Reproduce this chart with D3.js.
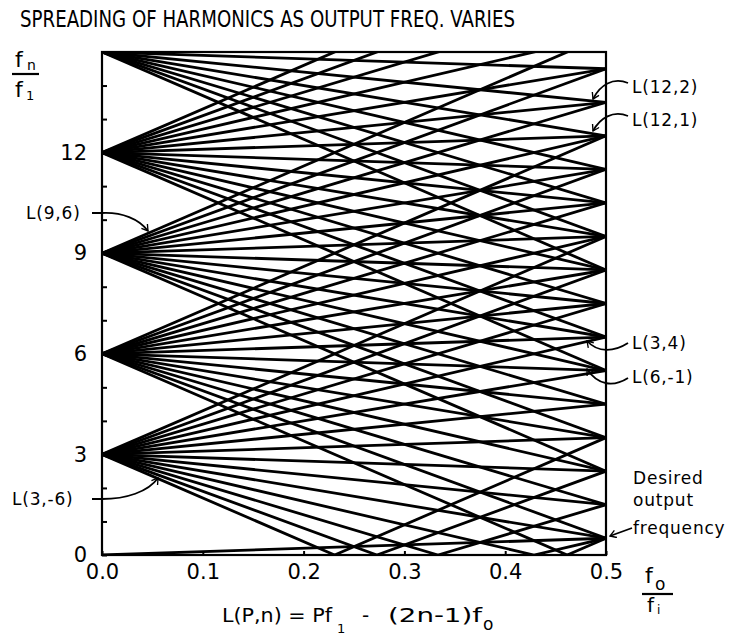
<!DOCTYPE html>
<html lang="en">
  <head>
    <meta charset="UTF-8">
    <script src="https://d3js.org/d3.v7.min.js"></script>
    <title>Spreading of harmonics</title>
    <style>
      body { margin: 0; background: #fff; }
      svg text { font-family: 'DejaVu Sans', sans-serif; fill: #000; }
    </style>
  </head>
  <body>
    <div id="chart"></div>
    <script>
      // harmonic families P (in units of f1) and orders n for L(P,n)
      const harmonics = [3, 6, 9, 12, 15];
      const orders = [-6, -5, -4, -3, -2, -1, 0, 1, 2, 3, 4, 5, 6, 7];
      const desired = [[0, 0]]; // L(0,0) = fo itself
      const yTicks = [0, 3, 6, 9, 12];
      const xTicks = [0, 0.1, 0.2, 0.3, 0.4, 0.5];
      const labels = [
        { text: "L(12,2)", x: 632, y: 87, path: "M628,83 C613,77 600,85 593,99" },
        { text: "L(12,1)", x: 632, y: 120, path: "M628,116 C613,110 600,118 593,131" },
        { text: "L(9,6)", x: 26, y: 213, path: "M92,213 L102,213 C122,212 139,219 148,231" },
        { text: "L(3,-6)", x: 12, y: 499, path: "M92,499 L102,499 C126,499 148,492 158,478" },
        { text: "L(3,4)", x: 632, y: 343, path: "M628,343 C614,352 598,353 587,341" },
        { text: "L(6,-1)", x: 632, y: 377, path: "M628,378 C614,387 598,386 587,369" }
      ];

      const width = 752, height = 635;
      const x = d3.scaleLinear().domain([0, 0.5]).range([102, 606]);
      const y = d3.scaleLinear().domain([0, 15]).range([555, 52]);

      const svg = d3.select("#chart").append("svg")
                    .attr("width", width).attr("height", height);

      svg.append("defs").append("clipPath").attr("id", "plot")
         .append("rect")
         .attr("x", x(0)).attr("y", y(15))
         .attr("width", x(0.5) - x(0)).attr("height", y(0) - y(15));

      svg.select("defs").append("marker")
         .attr("id", "head").attr("viewBox", "-10 -6 12 12")
         .attr("markerWidth", 9).attr("markerHeight", 9)
         .attr("markerUnits", "userSpaceOnUse")
         .attr("orient", "auto")
         .append("path").attr("d", "M-8,-5 L0,0 L-8,5")
         .attr("fill", "none").attr("stroke", "#000").attr("stroke-width", 1.8);

      // each line is |P + (2n-1) fo|, bending where it meets zero
      function pts(P, n) {
        const k = 2 * n - 1;
        const xs = [0, 0.5];
        const x0 = -P / k;
        if (x0 > 0 && x0 < 0.5) xs.splice(1, 0, x0);
        return xs.map(v => [v, Math.abs(P + k * v)]);
      }
      const family = [];
      harmonics.forEach(P => orders.forEach(n => family.push(pts(P, n))));
      desired.forEach(d => family.push(pts(d[0], d[1])));

      const line = d3.line().x(d => x(d[0])).y(d => y(d[1]));
      svg.append("g").attr("clip-path", "url(#plot)")
         .selectAll("path").data(family).enter().append("path")
         .attr("d", line).attr("fill", "none")
         .attr("stroke", "#000").attr("stroke-width", 2.8);

      // frame
      svg.append("rect")
         .attr("x", x(0)).attr("y", y(15))
         .attr("width", x(0.5) - x(0)).attr("height", y(0) - y(15))
         .attr("fill", "none").attr("stroke", "#000").attr("stroke-width", 2.2);

      // inner minor ticks
      svg.append("g").attr("transform", "translate(" + x(0) + ",0)")
         .call(d3.axisRight(y).ticks(15).tickSize(5).tickFormat(""))
         .call(g => g.select(".domain").remove())
         .selectAll("line").attr("stroke-width", 2);
      svg.append("g").attr("transform", "translate(0," + y(0) + ")")
         .call(d3.axisTop(x).tickValues(xTicks).tickSize(4).tickFormat(""))
         .call(g => g.select(".domain").remove())
         .selectAll("line").attr("stroke-width", 2);

      const yAxis = svg.append("g").attr("transform", "translate(" + x(0) + ",0)")
         .call(d3.axisLeft(y).tickValues(yTicks).tickSize(0).tickPadding(15));
      yAxis.select(".domain").remove();
      yAxis.selectAll("text").attr("font-size", 21).attr("font-family", "'DejaVu Sans', sans-serif");

      const xAxis = svg.append("g").attr("transform", "translate(0," + y(0) + ")")
         .call(d3.axisBottom(x).tickValues(xTicks).tickSize(0).tickPadding(9).tickFormat(d3.format(".1f")));
      xAxis.select(".domain").remove();
      xAxis.selectAll("text").attr("font-size", 21).attr("font-family", "'DejaVu Sans', sans-serif");

      // title
      svg.append("text").attr("x", 20).attr("y", 27)
         .attr("font-size", 23).attr("textLength", 495).attr("lengthAdjust", "spacingAndGlyphs")
         .text("SPREADING OF HARMONICS AS OUTPUT FREQ. VARIES");

      // y label fn / f1
      svg.append("text").attr("x", 15).attr("y", 67).attr("font-size", 22).text("f");
      svg.append("text").attr("x", 27).attr("y", 70).attr("font-size", 14).text("n");
      svg.append("line").attr("x1", 12).attr("x2", 39).attr("y1", 74).attr("y2", 74)
         .attr("stroke", "#000").attr("stroke-width", 2.2);
      svg.append("text").attr("x", 15).attr("y", 97).attr("font-size", 22).text("f");
      svg.append("text").attr("x", 26).attr("y", 100).attr("font-size", 13).text("1");

      // x label fo / fi
      svg.append("text").attr("x", 645).attr("y", 583).attr("font-size", 22).text("f");
      svg.append("text").attr("x", 655).attr("y", 590).attr("font-size", 17).text("o");
      svg.append("line").attr("x1", 642).attr("x2", 673).attr("y1", 594).attr("y2", 594)
         .attr("stroke", "#000").attr("stroke-width", 2.2);
      svg.append("text").attr("x", 647).attr("y", 612).attr("font-size", 20).text("f");
      svg.append("text").attr("x", 657).attr("y", 614).attr("font-size", 12).text("i");

      // formula
      const formula = svg.append("text").attr("font-size", 20);
      formula.append("tspan").attr("x", 222).attr("y", 622)
             .attr("textLength", 110).attr("lengthAdjust", "spacingAndGlyphs").text("L(P,n) = Pf");
      formula.append("tspan").attr("x", 337).attr("y", 633).attr("font-size", 13).text("1");
      formula.append("tspan").attr("x", 362).attr("y", 622).text("-");
      formula.append("tspan").attr("x", 388).attr("y", 622)
             .attr("textLength", 94).attr("lengthAdjust", "spacingAndGlyphs").text("(2n-1)f");
      formula.append("tspan").attr("x", 483).attr("y", 630).attr("font-size", 17).text("o");

      // annotations
      labels.forEach(l => {
        svg.append("text").attr("x", l.x).attr("y", l.y).attr("dy", "0.36em")
           .attr("font-size", 17).attr("letter-spacing", 0.8).text(l.text);
        svg.append("path").attr("d", l.path).attr("fill", "none")
           .attr("stroke", "#000").attr("stroke-width", 1.8)
           .attr("marker-end", "url(#head)");
      });

      const note = svg.append("text").attr("font-size", 17).attr("letter-spacing", 0.8);
      ["Desired", "output", "frequency"].forEach((t, i) => {
        note.append("tspan").attr("x", 633).attr("y", [484, 506, 534][i]).text(t);
      });
      svg.append("path").attr("d", "M632,528 L610,536").attr("fill", "none")
         .attr("stroke", "#000").attr("stroke-width", 1.8).attr("marker-end", "url(#head)");
    </script>
  </body>
</html>
